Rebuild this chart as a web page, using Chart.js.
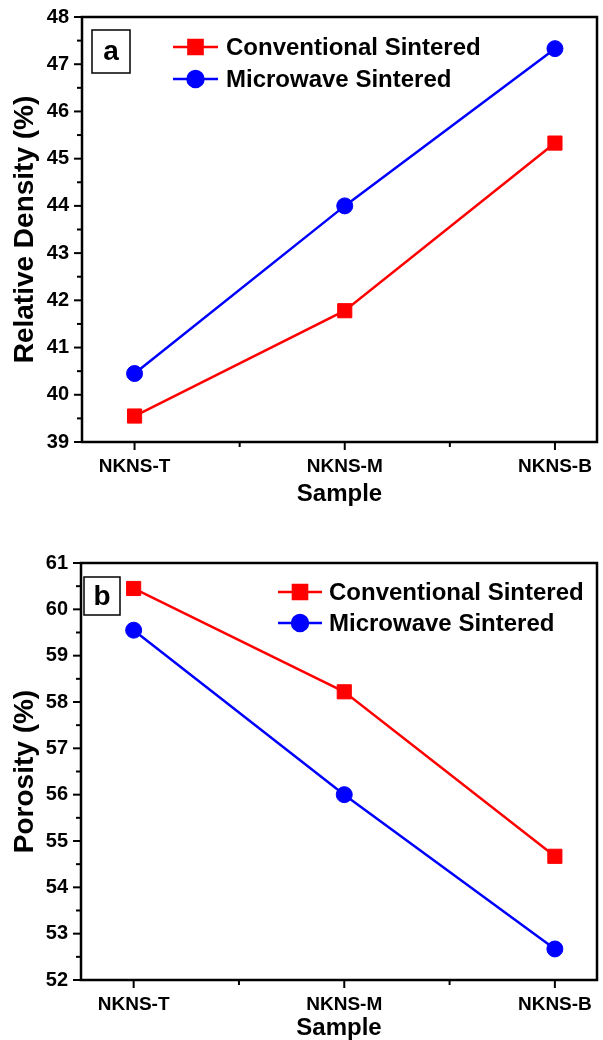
<!DOCTYPE html>
<html>
<head>
<meta charset="utf-8">
<script src="https://cdn.jsdelivr.net/npm/chart.js@4.4.0/dist/chart.umd.min.js"></script>
<style>
  body { margin: 0; background: #fff; }
  canvas { display: block; }
</style>
</head>
<body>
<canvas id="densityChart" width="603" height="520"></canvas>
<canvas id="porosityChart" width="603" height="520"></canvas>
<script>
const samples = ['NKNS-T', 'NKNS-M', 'NKNS-B'];
const seriesNames = ['Conventional Sintered', 'Microwave Sintered'];

const convDensity = [39.55, 41.78, 45.33];
const microDensity = [40.45, 44.0, 47.33];
const convPorosity = [60.45, 58.22, 54.67];
const microPorosity = [59.55, 56.0, 52.67];

const densityTicks = [39, 40, 41, 42, 43, 44, 45, 46, 47, 48];
const porosityTicks = [52, 53, 54, 55, 56, 57, 58, 59, 60, 61];

Chart.defaults.font.family = '"Liberation Sans", Arial, sans-serif';
Chart.defaults.font.weight = 'bold';
Chart.defaults.color = '#000';

// frame, outward ticks (major + minor), panel letter and legend
const framePlugin = {
    id: 'frame',
    afterDraw(chart, args, opts) {
        const ctx = chart.ctx;
        const a = chart.chartArea;
        const xs = chart.scales.x;
        const ys = chart.scales.y;
        ctx.save();
        ctx.strokeStyle = '#000';
        ctx.lineWidth = 2;
        xs.ticks.forEach(t => {
            const px = xs.getPixelForValue(t.value);
            const len = Number.isInteger(t.value) ? 8 : 5;
            ctx.beginPath();
            ctx.moveTo(px, a.bottom);
            ctx.lineTo(px, a.bottom + len);
            ctx.stroke();
        });
        ys.ticks.forEach(t => {
            const py = ys.getPixelForValue(t.value);
            const len = Number.isInteger(t.value) ? 8 : 5;
            ctx.beginPath();
            ctx.moveTo(a.left, py);
            ctx.lineTo(a.left - len, py);
            ctx.stroke();
        });
        ctx.lineWidth = 2.5;
        ctx.strokeRect(a.left, a.top, a.right - a.left, a.bottom - a.top);

        // panel letter
        const b = opts.box;
        ctx.lineWidth = 1.5;
        ctx.strokeRect(b.x, b.y, b.w, b.h);
        ctx.fillStyle = '#000';
        ctx.font = 'bold 28px "Liberation Sans", Arial, sans-serif';
        ctx.textAlign = 'center';
        ctx.textBaseline = 'middle';
        ctx.fillText(b.text, b.x + b.w / 2, b.y + b.h / 2 + 1);

        // legend
        const lg = opts.legend;
        ctx.textAlign = 'left';
        ctx.font = 'bold 24px "Liberation Sans", Arial, sans-serif';
        chart.data.datasets.forEach((ds, i) => {
            const y = lg.rows[i];
            ctx.strokeStyle = ds.borderColor;
            ctx.lineWidth = 2.5;
            ctx.beginPath();
            ctx.moveTo(lg.x, y);
            ctx.lineTo(lg.x + lg.len, y);
            ctx.stroke();
            ctx.fillStyle = ds.backgroundColor;
            Chart.helpers.drawPoint(ctx, {
                pointStyle: ds.pointStyle, radius: ds.pointRadius, rotation: 0, borderWidth: 1
            }, lg.x + lg.len / 2, y);
            ctx.fillStyle = '#000';
            ctx.fillText(ds.label, lg.textX, y + 1);
        });
        ctx.restore();
    }
};

function toPoints(values) {
    return values.map((v, i) => ({ x: i + 1, y: v }));
}

function makeChart(id, cfg) {
    const yMajor = cfg.yTicks;
    const yAll = [];
    yMajor.forEach((v, i) => {
        yAll.push(v);
        if (i < yMajor.length - 1) yAll.push(v + 0.5);
    });

    return new Chart(id, {
        type: 'line',
        data: {
            datasets: [{
                label: seriesNames[0],
                data: toPoints(cfg.conv),
                borderColor: '#ff0000',
                backgroundColor: '#ff0000',
                pointBackgroundColor: '#ff0000',
                pointStyle: 'rect',
                pointRadius: 10,
                pointBorderWidth: 1,
                borderWidth: 2.5
            }, {
                label: seriesNames[1],
                data: toPoints(cfg.micro),
                borderColor: '#0000ff',
                backgroundColor: '#0000ff',
                pointBackgroundColor: '#0000ff',
                pointStyle: 'circle',
                pointRadius: 8,
                pointBorderWidth: 1,
                borderWidth: 2.5
            }]
        },
        options: {
            responsive: false,
            animation: false,
            layout: { padding: cfg.padding, autoPadding: false },
            scales: {
                x: {
                    type: 'linear',
                    min: 0.75,
                    max: 3.2,
                    afterBuildTicks: s => { s.ticks = [1, 1.5, 2, 2.5, 3].map(v => ({ value: v })); },
                    afterFit: s => {
                        s.height = cfg.xHeight;
                        s.paddingLeft = 0;
                        s.paddingRight = 0;
                    },
                    grid: { display: false, drawTicks: false },
                    border: { display: false },
                    ticks: {
                        autoSkip: false,
                        maxRotation: 0,
                        padding: 13,
                        font: { size: 19, weight: 'bold' },
                        color: '#000',
                        callback: v => Number.isInteger(v) ? samples[v - 1] : ''
                    },
                    title: {
                        display: true,
                        text: 'Sample',
                        color: '#000',
                        font: { size: 24, weight: 'bold' },
                        padding: { top: 0, bottom: cfg.xTitlePad }
                    }
                },
                y: {
                    min: yMajor[0],
                    max: yMajor[yMajor.length - 1],
                    afterBuildTicks: s => { s.ticks = yAll.map(v => ({ value: v })); },
                    afterFit: s => {
                        s.width = cfg.yWidth;
                        s.paddingTop = 0;
                        s.paddingBottom = 0;
                    },
                    grid: { display: false, drawTicks: false },
                    border: { display: false },
                    ticks: {
                        autoSkip: false,
                        padding: 13,
                        font: { size: 20, weight: 'bold' },
                        color: '#000',
                        callback: v => Number.isInteger(v) ? String(v) : ''
                    },
                    title: {
                        display: true,
                        text: cfg.yTitle,
                        color: '#000',
                        font: { size: 28, weight: 'bold' },
                        padding: { top: 8, bottom: 0 }
                    }
                }
            },
            plugins: {
                legend: { display: false },
                tooltip: { enabled: false },
                frame: {
                    box: cfg.box,
                    legend: cfg.legend
                }
            }
        },
        plugins: [framePlugin]
    });
}

const densityChart = makeChart('densityChart', {
    conv: convDensity,
    micro: microDensity,
    yTicks: densityTicks,
    yTitle: 'Relative Density (%)',
    padding: { top: 17, right: 6, bottom: 0, left: 0 },
    xHeight: 78,
    yWidth: 82,
    xTitlePad: 11,
    box: { text: 'a', x: 92, y: 30, w: 38, h: 43 },
    legend: { x: 173, len: 45, textX: 226, rows: [47, 79] }
});

const porosityChart = makeChart('porosityChart', {
    conv: convPorosity,
    micro: microPorosity,
    yTicks: porosityTicks,
    yTitle: 'Porosity (%)',
    padding: { top: 43, right: 6, bottom: 0, left: 0 },
    xHeight: 60,
    yWidth: 81,
    xTitlePad: -3,
    box: { text: 'b', x: 84, y: 57, w: 36, h: 38 },
    legend: { x: 278, len: 44, textX: 329, rows: [72, 103] }
});
</script>
</body>
</html>
